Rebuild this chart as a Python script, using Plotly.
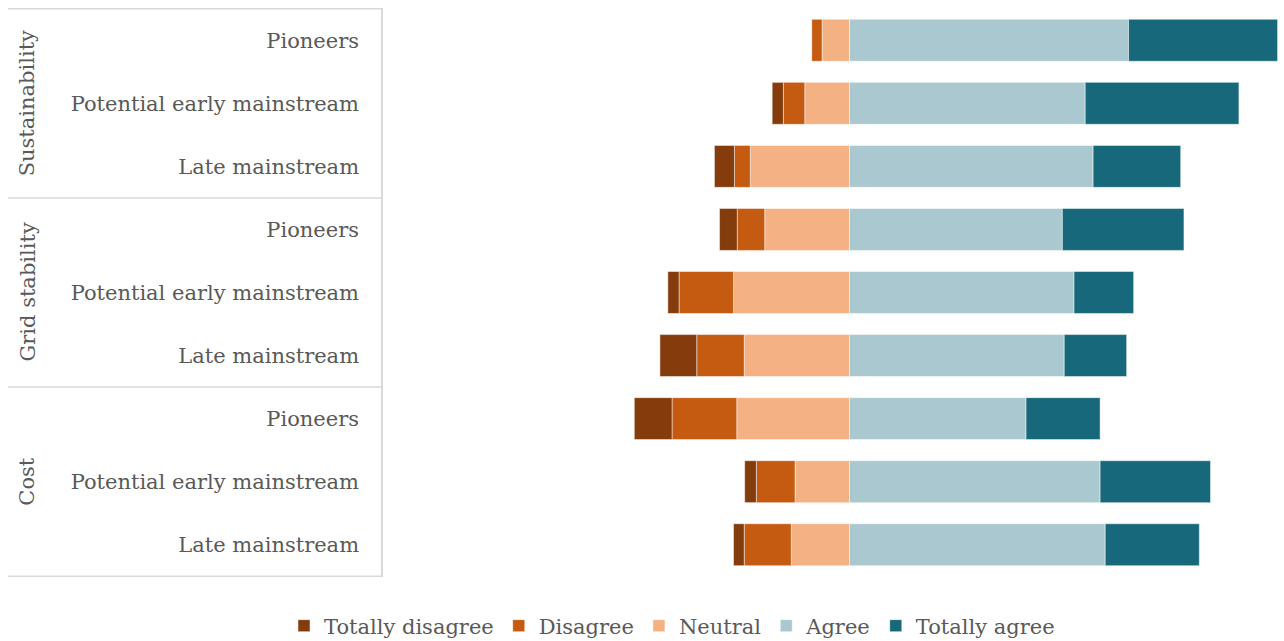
import plotly.graph_objects as go

# Survey responses (% of respondents) per topic and adopter segment
topics = ["Sustainability", "Grid stability", "Cost"]
segments = ["Pioneers", "Potential early mainstream", "Late mainstream"]

totally_disagree = [0.0, 2.4, 4.3, 3.8, 2.4, 7.9, 8.1, 2.5, 2.3]
disagree = [2.2, 4.6, 3.4, 5.9, 11.7, 10.2, 13.9, 8.3, 10.1]
neutral = [5.9, 9.6, 21.3, 18.2, 24.9, 22.6, 24.2, 11.7, 12.5]
agree = [59.9, 50.6, 52.3, 45.7, 48.2, 46.1, 37.9, 53.8, 54.9]
totally_agree = [32.0, 33.0, 18.8, 26.1, 12.8, 13.4, 15.9, 23.7, 20.2]

keys = [f"{t}|{s}" for t in topics for s in segments]
tick_text = [s for t in topics for s in segments]

FONT = "DejaVu Serif"
SIZE = 21
GREY = "#595959"
LINE = "#d9d9d9"

colors = {
    "Totally disagree": "#843c0c",
    "Disagree": "#c55a11",
    "Neutral": "#f4b183",
    "Agree": "#aac8cf",
    "Totally agree": "#17687a",
}

fig = go.Figure()

# Negative side stacks outward from zero: neutral first, then disagree, then totally disagree
series = [
    ("Neutral", neutral, -1, 3),
    ("Disagree", disagree, -1, 2),
    ("Totally disagree", totally_disagree, -1, 1),
    ("Agree", agree, 1, 4),
    ("Totally agree", totally_agree, 1, 5),
]
for name, vals, sign, rank in series:
    fig.add_trace(go.Bar(
        name=name,
        y=keys,
        x=[sign * v for v in vals],
        orientation="h",
        marker=dict(color=colors[name], line=dict(color="rgba(255,255,255,0.6)", width=0.8)),
        legendrank=rank,
        hovertemplate=f"{name}: %{{customdata}}%<extra></extra>",
        customdata=vals,
    ))

# Group labels and table borders on the left
shapes = []
for yb in [-0.5, 2.5, 5.5, 8.5]:
    shapes.append(dict(type="line", xref="paper", yref="y",
                       x0=8 / 1284, x1=383 / 1284, y0=yb, y1=yb,
                       line=dict(color=LINE, width=1.5)))

annotations = []
for i, t in enumerate(topics):
    annotations.append(dict(
        text=t, xref="paper", yref="y", x=27 / 1284, y=keys[i * 3 + 1],
        textangle=-90, showarrow=False, xanchor="center", yanchor="middle",
        font=dict(family=FONT, size=SIZE, color=GREY),
    ))

fig.update_layout(
    width=1284, height=641,
    margin=dict(l=0, r=0, t=8, b=64, autoexpand=False),
    paper_bgcolor="white", plot_bgcolor="white",
    barmode="relative", bargap=0.335,
    font=dict(family=FONT, size=SIZE, color=GREY),
    xaxis=dict(domain=[383 / 1284, 1], range=[-100.15, 93.28],
               showgrid=False, zeroline=False, showticklabels=False, ticks=""),
    yaxis=dict(categoryorder="array", categoryarray=keys, autorange="reversed",
               tickvals=keys, ticktext=tick_text, ticks="",
               showline=True, linecolor=LINE, linewidth=1.5,
               showgrid=False, zeroline=False, ticklabelstandoff=18,
               tickfont=dict(family=FONT, size=SIZE, color=GREY)),
    legend=dict(orientation="h", x=672 / 1284, xanchor="center",
                yref="container", y=(641 - 626) / 641, yanchor="middle",
                font=dict(family=FONT, size=SIZE, color=GREY),
                traceorder="normal"),
    shapes=shapes,
    annotations=annotations,
    showlegend=True,
)

fig.write_html("out.html")
